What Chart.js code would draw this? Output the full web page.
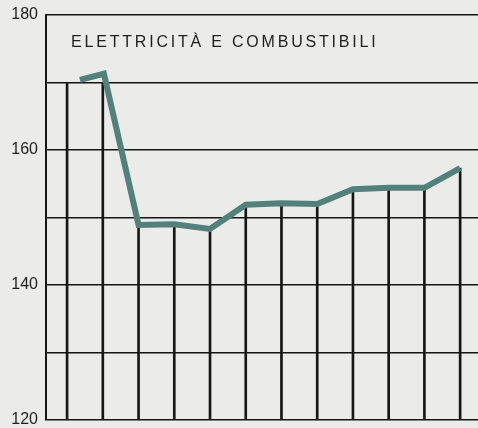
<!DOCTYPE html>
<html>
<head>
<meta charset="utf-8">
<script src="https://cdn.jsdelivr.net/npm/chart.js@4/dist/chart.umd.min.js"></script>
<style>
  html, body { margin: 0; padding: 0; background: #ebebe9; }
  #wrap { width: 478px; height: 428px; }
</style>
</head>
<body>
<div id="wrap"><canvas id="indexChart"></canvas></div>
<script>
const title = 'ELETTRICITÀ E COMBUSTIBILI'

// vertical rulings, one per period, drawn up to the curve
const periods = [0, 1, 2, 3, 4, 5, 6, 7, 8, 9, 10, 11]
const rulingTops = [170, 170, 148.9, 149.0, 148.3, 151.9, 152.1, 152.0, 154.2, 154.4, 154.4, 157.3]

// the index curve
const lineX = [0.36, 1.03, 2, 3, 4, 5, 6, 7, 8, 9, 10, 11]
const lineY = [170.4, 171.3, 148.9, 149.0, 148.3, 151.9, 152.1, 152.0, 154.2, 154.4, 154.4, 157.3]

const yLabels = [120, 140, 160, 180]

const titlePlugin = {
    id: 'insideTitle',
    afterDraw(chart) {
        const c = chart.ctx
        c.save()
        c.font = '16px "Liberation Sans", Arial, sans-serif'
        c.fillStyle = '#1e1e1e'
        c.letterSpacing = '2.8px'
        c.textBaseline = 'alphabetic'
        c.fillText(title, chart.chartArea.left + 25, 47)
        c.restore()
    },
}

const ctx = document.querySelector('#indexChart').getContext('2d')

const indexChart = new Chart(ctx, {
    data: {
        datasets: [
            {
                type: 'line',
                data: lineX.map((x, i) => ({ x: x, y: lineY[i] })),
                borderColor: '#52807a',
                borderWidth: 6,
                pointRadius: 0,
                tension: 0,
                order: 0,
            },
            {
                type: 'bar',
                data: periods.map((x, i) => ({ x: x, y: [120, rulingTops[i]] })),
                backgroundColor: '#161616',
                barThickness: 2,
                order: 1,
            },
        ],
    },
    options: {
        responsive: true,
        maintainAspectRatio: false,
        animation: false,
        layout: { padding: { top: 15, bottom: 8, left: 0, right: 0 } },
        plugins: { legend: { display: false }, tooltip: { enabled: false } },
        scales: {
            x: {
                type: 'linear',
                min: -0.59,
                max: 11.5,
                offset: false,
                display: false,
            },
            y: {
                min: 120,
                max: 180,
                afterFit(scale) {
                    scale.width = 46
                    scale.paddingTop = 0
                    scale.paddingBottom = 0
                },
                ticks: {
                    stepSize: 10,
                    padding: 8,
                    color: '#1e1e1e',
                    font: { family: '"Liberation Sans", Arial, sans-serif', size: 16 },
                    callback: (v) => (yLabels.includes(v) ? String(v) : ''),
                },
                grid: { color: '#151515', lineWidth: 1.6, drawTicks: false },
                border: { display: true, color: '#151515', width: 2 },
            },
        },
    },
    plugins: [titlePlugin],
})
</script>
</body>
</html>
